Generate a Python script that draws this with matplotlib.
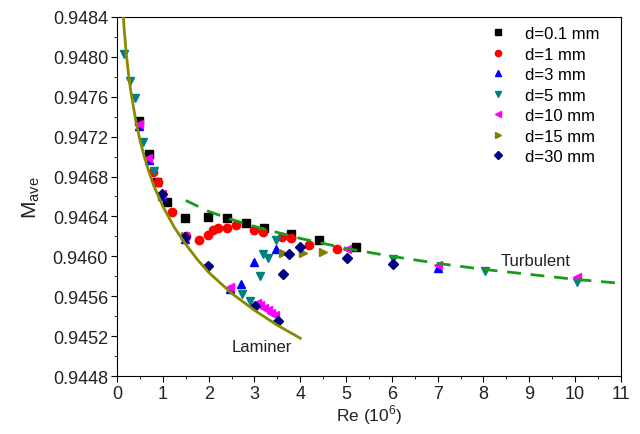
import matplotlib
matplotlib.use("Agg")
import matplotlib.pyplot as plt
from matplotlib.ticker import MultipleLocator, FormatStrFormatter

plt.rcParams["font.family"] = ["Liberation Sans", "DejaVu Sans"]

# 数据
x01 = [0.48, 0.70, 0.87, 1.09, 1.48, 1.99, 2.40, 2.82, 3.21, 3.80, 4.41, 5.22]
y01 = [0.94736, 0.94703, 0.94675, 0.94654, 0.94638, 0.94639, 0.94638, 0.94633, 0.94628, 0.94622, 0.94616, 0.94609]

x1 = [0.79, 0.90, 1.20, 1.51, 1.79, 1.99, 2.10, 2.20, 2.40, 2.60, 2.99, 3.19, 3.60, 3.80, 4.19, 4.80]
y1 = [0.94685, 0.94675, 0.94644, 0.94620, 0.94616, 0.94621, 0.94626, 0.94628, 0.94628, 0.94631,
      0.94626, 0.94624, 0.94619, 0.94618, 0.94611, 0.94607]

x3 = [0.48, 0.70, 0.98, 1.48, 2.47, 2.71, 2.99, 3.47, 7.0]
y3 = [0.94731, 0.94697, 0.94660, 0.94617, 0.94567, 0.94572, 0.94594, 0.94607, 0.94588]

x5 = [0.15, 0.28, 0.39, 0.57, 0.81, 1.99, 2.73, 2.90, 3.12, 3.19, 3.30, 3.47, 6.03, 8.03, 10.04]
y5 = [0.94803, 0.94776, 0.94759, 0.94715, 0.94686, 0.94588, 0.94562, 0.94555, 0.94580, 0.94602,
      0.94598, 0.94616, 0.94597, 0.94585, 0.94574]

x10 = [0.48, 0.68, 0.98, 1.48, 2.47, 3.05, 3.13, 3.21, 3.29, 3.37, 3.45, 5.02, 7.0, 10.04]
y10 = [0.94733, 0.94699, 0.94662, 0.94620, 0.94569, 0.94553, 0.94551, 0.94548, 0.94546, 0.94543,
       0.94541, 0.94607, 0.94591, 0.94579]

x15 = [0.98, 1.48, 3.62, 4.06, 4.50]
y15 = [0.94660, 0.94620, 0.94603, 0.94603, 0.94604]

x30 = [0.98, 1.48, 1.99, 3.01, 3.52, 3.62, 3.76, 4.00, 5.02, 6.03]
y30 = [0.94662, 0.94619, 0.94590, 0.94550, 0.94535, 0.94582, 0.94602, 0.94609, 0.94598, 0.94592]

# 层流 / 湍流拟合线（读图取点）
lam_x = [0.12, 0.15, 0.2, 0.25, 0.3, 0.4, 0.5, 0.6, 0.7, 0.8, 1.0, 1.25, 1.5, 1.75, 2.0, 2.5, 3.0, 3.5, 4.0]
lam_y = [0.94852, 0.94830, 0.94803, 0.94782, 0.94765, 0.94738, 0.94716, 0.94699, 0.94684, 0.94671,
         0.94650, 0.94629, 0.94612, 0.94597, 0.94584, 0.94563, 0.94546, 0.94531, 0.94518]
tur_x = [1.5, 2.0, 2.5, 3.0, 3.5, 4.0, 4.5, 5.0, 6.0, 7.0, 8.0, 9.0, 10.0, 11.0]
tur_y = [0.94656, 0.94645, 0.94637, 0.94630, 0.94624, 0.94618, 0.94613, 0.94608, 0.94600, 0.94593,
         0.94587, 0.94582, 0.94577, 0.94573]

series = [
    (x01, y01, "s", "black", "d=0.1 mm"),
    (x1, y1, "o", "red", "d=1 mm"),
    (x3, y3, "^", "blue", "d=3 mm"),
    (x5, y5, "v", "#008080", "d=5 mm"),
    (x10, y10, "<", "magenta", "d=10 mm"),
    (x15, y15, ">", "#808000", "d=15 mm"),
    (x30, y30, "D", "#000080", "d=30 mm"),
]

fig = plt.figure(figsize=(6.4, 4.35), dpi=100)
ax = fig.add_axes([0.183, 0.133, 0.787, 0.826])

for xs, ys, m, c, lab in series:
    ms = 6 if m != "D" else 5
    ax.plot(xs, ys, ls="none", marker=m, color=c, ms=ms, mec=c, label=lab, zorder=3)

ax.plot(lam_x, lam_y, color="#8a8a00", lw=2, zorder=4)
ax.plot(tur_x, tur_y, color="#1a9a1a", lw=2, ls=(0, (5, 3.5)), zorder=4)

ax.text(3.15, 0.94510, "Laminer", ha="center", va="center", fontsize=12, color="#222222")
ax.text(9.15, 0.94596, "Turbulent", ha="center", va="center", fontsize=12, color="#222222")

ax.set_xlim(0, 11)
ax.set_ylim(0.9448, 0.9484)
ax.xaxis.set_major_locator(MultipleLocator(1))
ax.xaxis.set_minor_locator(MultipleLocator(0.5))
ax.yaxis.set_major_locator(MultipleLocator(0.0004))
ax.yaxis.set_minor_locator(MultipleLocator(0.0002))
ax.yaxis.set_major_formatter(FormatStrFormatter("%.4f"))
ax.tick_params(which="both", direction="out", top=False, right=False, labelsize=13,
               labelcolor="#222222", pad=2)
ax.tick_params(which="major", length=4.5)
ax.tick_params(which="minor", length=2.5)

ax.set_xlabel("Re (10$^{\\mathregular{6}}$)", fontsize=12.5, labelpad=0, color="#222222")
ax.set_ylabel("$\\mathregular{M_{ave}}$", fontsize=15, labelpad=8, color="#222222")

leg = ax.legend(loc="upper right", frameon=False, fontsize=12, markerscale=0.75,
                handletextpad=0.6, labelspacing=0.33, borderaxespad=0.15,
                bbox_to_anchor=(0.975, 1.0))

fig.savefig("out.png", dpi=100)
